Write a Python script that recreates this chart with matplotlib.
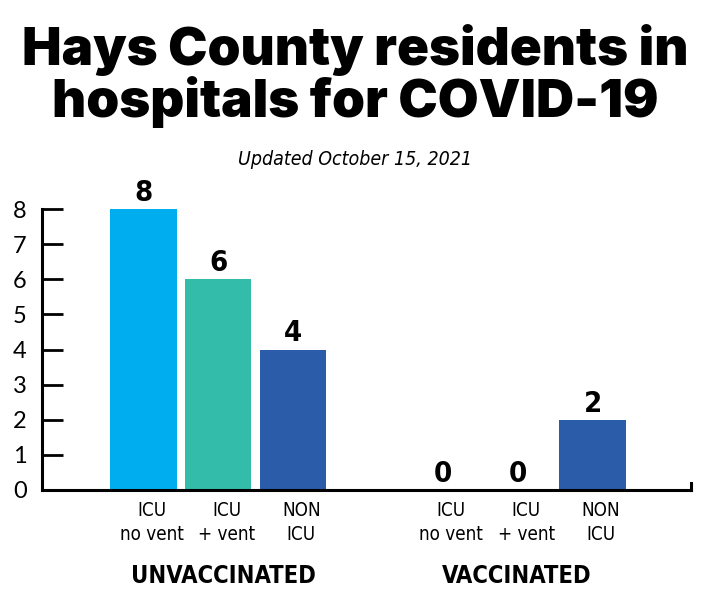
import numpy as np
import matplotlib
matplotlib.use('Agg')
from matplotlib import pyplot as plt
import matplotlib.transforms as mtransforms

# data
categories = ['ICU\nno vent', 'ICU\n+ vent', 'NON\nICU']
groups = ['UNVACCINATED', 'VACCINATED']
unvaccinated = [8, 6, 4]
vaccinated = [0, 0, 2]
colors = ['#00aeef', '#33bcaa', '#2b5caa']

title = 'Hays County residents in\nhospitals for COVID-19'
subtitle = 'Updated October 15, 2021'

cond = dict(family='DejaVu Sans', stretch='condensed')

fig = plt.figure(figsize=(7.1, 6.0), dpi=100)
ax = fig.add_axes([42 / 710, 1 - 490 / 600, (691 - 42) / 710, (490 - 209) / 600])

pos_u = np.arange(3)
pos_v = np.arange(3) + 4.0
values = unvaccinated + vaccinated
pos = list(pos_u) + list(pos_v)
for i, (x, v) in enumerate(zip(pos, values)):
    ax.bar(x, v, width=0.89, color=colors[i % 3], zorder=2)
    ax.text(x, v + 0.06, str(v), ha='center', va='bottom', fontsize=21,
            fontweight='bold', **cond)

ax.set_xlim(-1.35, 7.31)
ax.set_ylim(0, 8)
ax.set_yticks(range(9))
ax.set_yticklabels([str(i) for i in range(9)], family=['Lato', 'DejaVu Sans'], fontsize=17)
ax.tick_params(axis='y', direction='in', length=15, width=2, pad=11)

ax.set_xticks(pos)
ax.set_xticklabels(categories * 2, fontsize=13.5, linespacing=1.35, **cond)
ax.tick_params(axis='x', length=0, pad=8)
shift = mtransforms.ScaledTranslation(6 / 72, 0, fig.dpi_scale_trans)
for lab in ax.get_xticklabels():
    lab.set_transform(lab.get_transform() + shift)

ax.spines['top'].set_visible(False)
ax.spines['right'].set_bounds(0, 0.2)
for s in ['left', 'bottom', 'right']:
    ax.spines[s].set_linewidth(2.2)
    ax.spines[s].set_capstyle('projecting')

trans = mtransforms.blended_transform_factory(ax.transData, fig.transFigure)
ax.text(pos_u.mean() + 0.07, 1 - 576 / 600, groups[0], transform=trans, ha='center',
        va='center', fontsize=17, fontweight='bold', **cond)
ax.text(pos_v.mean() - 0.02, 1 - 576 / 600, groups[1], transform=trans, ha='center',
        va='center', fontsize=17, fontweight='bold', **cond)

fig.text(0.5, 1 - 76 / 600, title, ha='center', va='center', fontsize=38,
         fontweight='black', family=['Inter', 'Roboto', 'DejaVu Sans'], linespacing=1.02)
fig.text(0.5, 1 - 160 / 600, subtitle, ha='center', va='center', fontsize=14,
         style='italic', **cond)

fig.savefig('out.png', dpi=100)
